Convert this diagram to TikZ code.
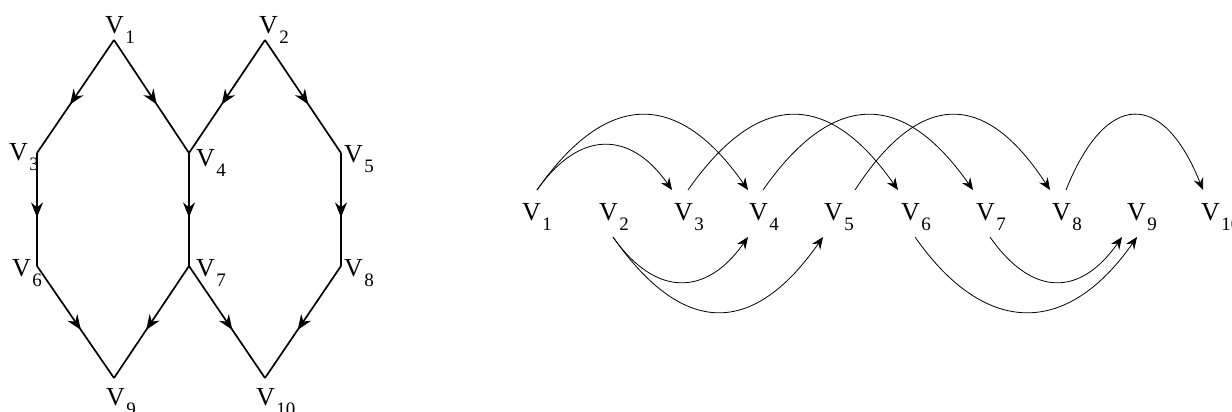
\documentclass[tikz,border=0pt]{standalone}
\usepackage{fontspec}
\setmainfont{Liberation Serif}
\usetikzlibrary{arrows.meta,decorations.markings}
\newcommand{\vlab}[1]{V\kern1.5bp\raisebox{-10bp}{\fontsize{19bp}{21bp}\selectfont #1}}
\tikzset{
  lv/.style={inner sep=0pt, anchor=base west, font=\fontsize{26bp}{30bp}\selectfont},
  ledge/.style={line width=1.7bp, postaction={decorate},
    decoration={markings, mark=at position 0.57 with {\arrow{Stealth[length=15bp,width=12bp,inset=5bp]}}}},
  rarc/.style={line width=0.8bp, -{Stealth[length=12bp,width=10bp,inset=4bp]}}
}
\begin{document}
\begin{tikzpicture}[x=1bp,y=-1bp]
\useasboundingbox (0,0) rectangle (1232,411);
% left graph vertices
\coordinate (a1) at (114,40);
\coordinate (a2) at (265,40);
\coordinate (a3) at (37,153);
\coordinate (a4) at (189,153);
\coordinate (a5) at (341,153);
\coordinate (a6) at (37,266);
\coordinate (a7) at (189,266);
\coordinate (a8) at (341,266);
\coordinate (a9) at (114,378);
\coordinate (a10) at (265,378);
% left labels
\node[lv] (la1) at (105,33) {\vlab{1}};
\node[lv] (la2) at (259,33) {\vlab{2}};
\node[lv] (la3) at (9,160) {\vlab{3}};
\node[lv] (la4) at (196,166) {\vlab{4}};
\node[lv] (la5) at (344,162) {\vlab{5}};
\node[lv] (la6) at (12,276) {\vlab{6}};
\node[lv] (la7) at (196,276) {\vlab{7}};
\node[lv] (la8) at (344,276) {\vlab{8}};
\node[lv] (la9) at (106,405) {\vlab{9}};
\node[lv] (la10) at (256,405) {\vlab{10}};
% left edges
\draw[ledge] (a1) -- (a3);
\draw[ledge] (a1) -- (a4);
\draw[ledge] (a2) -- (a4);
\draw[ledge] (a2) -- (a5);
\draw[ledge] (a3) -- (a6);
\draw[ledge] (a4) -- (a7);
\draw[ledge] (a5) -- (a8);
\draw[ledge] (a6) -- (a9);
\draw[ledge] (a7) -- (a9);
\draw[ledge] (a7) -- (a10);
\draw[ledge] (a8) -- (a10);
% right graph labels
\node[lv] (r1) at (522,220) {\vlab{1}};
\node[lv] (r2) at (599,220) {\vlab{2}};
\node[lv] (r3) at (674,220) {\vlab{3}};
\node[lv] (r4) at (749,220) {\vlab{4}};
\node[lv] (r5) at (824,220) {\vlab{5}};
\node[lv] (r6) at (901,220) {\vlab{6}};
\node[lv] (r7) at (976,220) {\vlab{7}};
\node[lv] (r8) at (1052,220) {\vlab{8}};
\node[lv] (r9) at (1127,220) {\vlab{9}};
\node[lv] (r10) at (1201,220) {\vlab{10}};
% top arcs
\draw[rarc] ([shift={(15,-30)}]r1.base west) .. controls +(42,-60) and +(-42,-60) .. ([shift={(-2,-30)}]r3.base west);
\draw[rarc] ([shift={(15,-30)}]r1.base west) .. controls +(70,-100) and +(-70,-100) .. ([shift={(-1,-30)}]r4.base west);
\draw[rarc] ([shift={(14,-30)}]r3.base west) .. controls +(70,-100) and +(-70,-100) .. ([shift={(-3,-30)}]r6.base west);
\draw[rarc] ([shift={(14,-30)}]r4.base west) .. controls +(70,-100) and +(-70,-100) .. ([shift={(-3,-30)}]r7.base west);
\draw[rarc] ([shift={(31,-30)}]r5.base west) .. controls +(65,-100) and +(-65,-100) .. ([shift={(-2,-30)}]r8.base west);
\draw[rarc] ([shift={(14,-30)}]r8.base west) .. controls +(40,-100) and +(-40,-100) .. ([shift={(2,-30)}]r10.base west);
% bottom arcs
\draw[rarc] ([shift={(14,17)}]r2.base west) .. controls +(42,60) and +(-42,60) .. ([shift={(-1,17)}]r4.base west);
\draw[rarc] ([shift={(14,17)}]r2.base west) .. controls +(70,100) and +(-70,100) .. ([shift={(-1,17)}]r5.base west);
\draw[rarc] ([shift={(14,17)}]r6.base west) .. controls +(70,100) and +(-70,100) .. ([shift={(10,17)}]r9.base west);
\draw[rarc] ([shift={(14,17)}]r7.base west) .. controls +(42,60) and +(-42,60) .. ([shift={(-5,17)}]r9.base west);
\end{tikzpicture}
\end{document}
